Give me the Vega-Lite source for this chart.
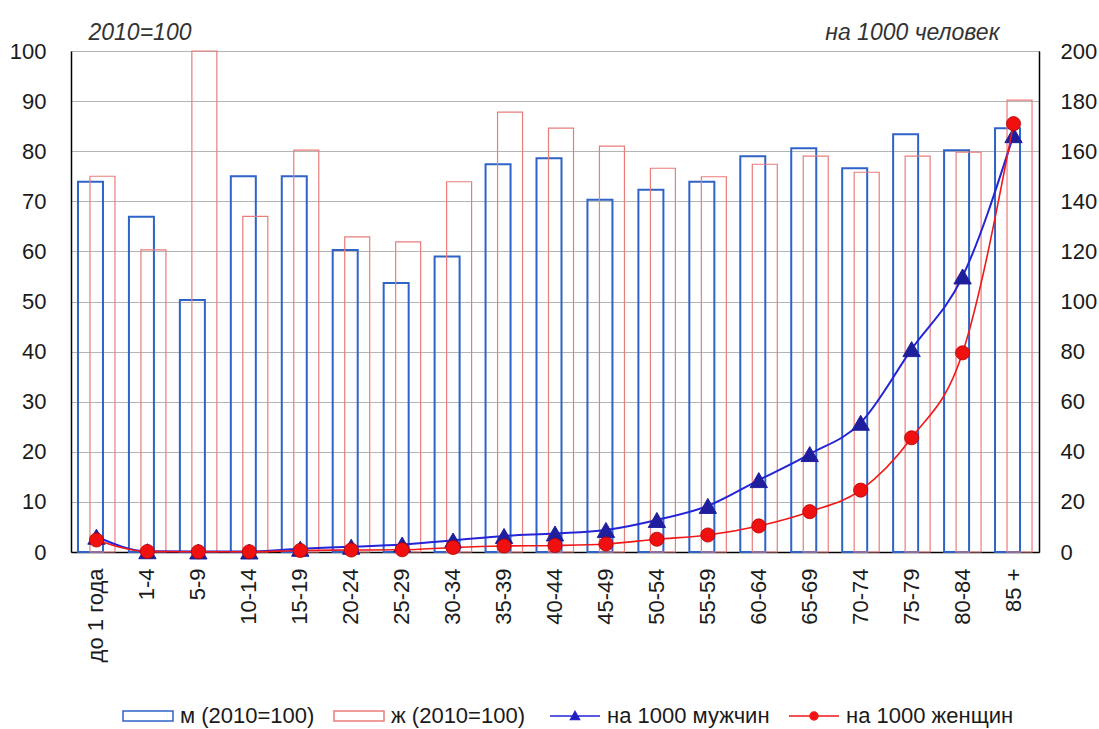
{
  "$schema": "https://vega.github.io/schema/vega-lite/v6.json",
  "width": 968,
  "height": 501,
  "autosize": {"type": "none"},
  "padding": {"left": 71, "top": 51, "right": 60, "bottom": 177},
  "background": "white",
  "config": {
    "font": "Liberation Sans",
    "view": {"stroke": "#7a7a7a", "strokeWidth": 1},
    "axis": {"labelFont": "Liberation Sans", "labelFontSize": 22, "labelColor": "#1a1a1a", "ticks": false, "domainColor": "#000000", "domainWidth": 1.5},
    "legend": {"direction": "horizontal", "symbolSize": 2500, "labelFont": "Liberation Sans", "labelFontSize": 22, "labelColor": "#1a1a1a", "labelOffset": 6, "labelLimit": 0}
  },
  "data": {
    "values": [
      {"age": "до 1 года", "m": 73.9, "f": 75.0, "m1000": 6.1, "f1000": 4.8},
      {"age": "1-4", "m": 66.9, "f": 60.3, "m1000": 0.3, "f1000": 0.2},
      {"age": "5-9", "m": 50.3, "f": 100, "m1000": 0.2, "f1000": 0.1},
      {"age": "10-14", "m": 75.0, "f": 67.0, "m1000": 0.2, "f1000": 0.1},
      {"age": "15-19", "m": 75.0, "f": 80.2, "m1000": 1.3, "f1000": 0.6},
      {"age": "20-24", "m": 60.3, "f": 62.9, "m1000": 2.1, "f1000": 0.8},
      {"age": "25-29", "m": 53.7, "f": 61.9, "m1000": 3.0, "f1000": 0.9},
      {"age": "30-34", "m": 59.0, "f": 73.9, "m1000": 4.6, "f1000": 1.8},
      {"age": "35-39", "m": 77.4, "f": 87.8, "m1000": 6.4, "f1000": 2.4},
      {"age": "40-44", "m": 78.6, "f": 84.6, "m1000": 7.4, "f1000": 2.6},
      {"age": "45-49", "m": 70.3, "f": 81.0, "m1000": 8.8, "f1000": 3.2},
      {"age": "50-54", "m": 72.3, "f": 76.6, "m1000": 12.8, "f1000": 5.1},
      {"age": "55-59", "m": 73.9, "f": 74.9, "m1000": 18.4, "f1000": 6.8},
      {"age": "60-64", "m": 79.0, "f": 77.4, "m1000": 28.7, "f1000": 10.4},
      {"age": "65-69", "m": 80.6, "f": 79.0, "m1000": 39.1, "f1000": 16.1},
      {"age": "70-74", "m": 76.6, "f": 75.8, "m1000": 51.6, "f1000": 24.7},
      {"age": "75-79", "m": 83.4, "f": 79.0, "m1000": 81.0, "f1000": 45.6},
      {"age": "80-84", "m": 80.2, "f": 79.8, "m1000": 110.0, "f1000": 79.5},
      {"age": "85 +", "m": 84.6, "f": 90.2, "m1000": 166.4, "f1000": 171.0}
    ]
  },
  "encoding": {
    "x": {
      "field": "age", "type": "nominal", "sort": null,
      "scale": {"paddingInner": 0, "paddingOuter": 0},
      "axis": {"title": null, "labelAngle": -90, "labelAlign": "right", "labelBaseline": "middle", "labelPadding": 16, "grid": false}
    }
  },
  "layer": [
    {
      "layer": [
        {
          "mark": {"type": "bar", "width": 25, "xOffset": -6, "fill": "transparent", "strokeWidth": 2, "strokeJoin": "miter"},
          "encoding": {
            "y": {"field": "m", "type": "quantitative", "scale": {"domain": [0, 100]},
              "axis": {"values": [0, 10, 20, 30, 40, 50, 60, 70, 80, 90, 100], "grid": true, "gridColor": "#b4b4b4", "gridWidth": 1, "labelPadding": 25, "title": "2010=100", "titleAngle": 0, "titleAlign": "left", "titleBaseline": "alphabetic", "titleX": 17, "titleY": -12, "titleFont": "Liberation Sans", "titleFontSize": 23, "titleFontStyle": "italic", "titleFontWeight": "normal", "titleColor": "#333333"}},
            "stroke": {
              "datum": "м (2010=100)", "type": "nominal",
              "scale": {"domain": ["м (2010=100)", "ж (2010=100)"], "range": ["#2f63c8", "#ea7c7c"]},
              "legend": {"orient": "none", "legendX": 51, "legendY": 639, "title": null, "columnPadding": 16, "symbolType": "M-1,-0.2H1V0.2H-1Z"}
            }
          }
        },
        {
          "mark": {"type": "bar", "width": 25, "xOffset": 6, "fill": "transparent", "strokeWidth": 1.2, "strokeJoin": "miter"},
          "encoding": {
            "y": {"field": "f", "type": "quantitative", "scale": {"domain": [0, 100]},
              "axis": {"values": [0, 10, 20, 30, 40, 50, 60, 70, 80, 90, 100], "grid": true, "gridColor": "#b4b4b4", "gridWidth": 1, "labelPadding": 25, "title": "2010=100", "titleAngle": 0, "titleAlign": "left", "titleBaseline": "alphabetic", "titleX": 17, "titleY": -12, "titleFont": "Liberation Sans", "titleFontSize": 23, "titleFontStyle": "italic", "titleFontWeight": "normal", "titleColor": "#333333"}},
            "stroke": {"datum": "ж (2010=100)", "type": "nominal"}
          }
        }
      ]
    },
    {
      "layer": [
        {
          "mark": {"type": "line", "interpolate": "monotone", "strokeWidth": 2},
          "encoding": {
            "y": {"field": "m1000", "type": "quantitative", "scale": {"domain": [0, 200]},
              "axis": {"orient": "right", "values": [0, 20, 40, 60, 80, 100, 120, 140, 160, 180, 200], "grid": false, "labelPadding": 21, "title": "на 1000 человек", "titleAngle": 0, "titleAlign": "right", "titleBaseline": "alphabetic", "titleX": -40, "titleY": -12, "titleFont": "Liberation Sans", "titleFontSize": 23, "titleFontStyle": "italic", "titleFontWeight": "normal", "titleColor": "#333333"}},
            "stroke": {
              "datum": "на 1000 мужчин", "type": "nominal",
              "scale": {"domain": ["на 1000 мужчин", "на 1000 женщин"], "range": ["#2424d8", "#f01818"]},
              "legend": {
                "orient": "none", "legendX": 478, "legendY": 639, "title": null, "columnPadding": 16,
                "symbolType": {"expr": "datum.value === 'на 1000 мужчин' ? 'M-1,0H1M-0.18,0.14L0,-0.18L0.18,0.14Z' : 'M-1,0H1M-0.16,0A0.16,0.16,0,1,0,0.16,0A0.16,0.16,0,1,0,-0.16,0Z'"},
                "symbolFillColor": {"expr": "datum.value === 'на 1000 мужчин' ? '#1f1f9e' : '#f01010'"}
              }
            }
          }
        },
        {
          "mark": {"type": "point", "shape": "triangle-up", "filled": true, "fill": "#1f1f9e", "stroke": "#1f1f9e", "strokeWidth": 1, "size": 300, "opacity": 1},
          "encoding": {
            "y": {"field": "m1000", "type": "quantitative", "scale": {"domain": [0, 200]},
              "axis": {"orient": "right", "values": [0, 20, 40, 60, 80, 100, 120, 140, 160, 180, 200], "grid": false, "labelPadding": 21, "title": "на 1000 человек", "titleAngle": 0, "titleAlign": "right", "titleBaseline": "alphabetic", "titleX": -40, "titleY": -12, "titleFont": "Liberation Sans", "titleFontSize": 23, "titleFontStyle": "italic", "titleFontWeight": "normal", "titleColor": "#333333"}}
          }
        },
        {
          "mark": {"type": "line", "interpolate": "monotone", "strokeWidth": 1.6},
          "encoding": {
            "y": {"field": "f1000", "type": "quantitative", "scale": {"domain": [0, 200]},
              "axis": {"orient": "right", "values": [0, 20, 40, 60, 80, 100, 120, 140, 160, 180, 200], "grid": false, "labelPadding": 21, "title": "на 1000 человек", "titleAngle": 0, "titleAlign": "right", "titleBaseline": "alphabetic", "titleX": -40, "titleY": -12, "titleFont": "Liberation Sans", "titleFontSize": 23, "titleFontStyle": "italic", "titleFontWeight": "normal", "titleColor": "#333333"}},
            "stroke": {"datum": "на 1000 женщин", "type": "nominal"}
          }
        },
        {
          "mark": {"type": "point", "shape": "circle", "filled": true, "fill": "#f01010", "stroke": "#b00000", "strokeWidth": 0.8, "size": 200, "opacity": 1},
          "encoding": {
            "y": {"field": "f1000", "type": "quantitative", "scale": {"domain": [0, 200]},
              "axis": {"orient": "right", "values": [0, 20, 40, 60, 80, 100, 120, 140, 160, 180, 200], "grid": false, "labelPadding": 21, "title": "на 1000 человек", "titleAngle": 0, "titleAlign": "right", "titleBaseline": "alphabetic", "titleX": -40, "titleY": -12, "titleFont": "Liberation Sans", "titleFontSize": 23, "titleFontStyle": "italic", "titleFontWeight": "normal", "titleColor": "#333333"}}
          }
        }
      ]
    }
  ],
  "resolve": {"scale": {"y": "independent", "stroke": "independent"}}
}
